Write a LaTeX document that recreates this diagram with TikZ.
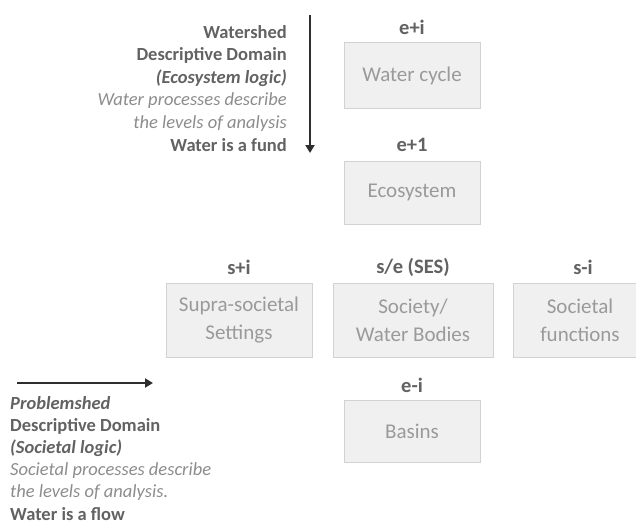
\documentclass[tikz,border=0pt]{standalone}
\usepackage{fontspec}
\setmainfont{Carlito}
\usetikzlibrary{arrows.meta}
\definecolor{boxfill}{HTML}{F0F0F0}
\definecolor{boxline}{HTML}{D2D2D2}
\definecolor{boxtext}{HTML}{9A9A9A}
\definecolor{lbltext}{HTML}{626262}
\definecolor{softtext}{HTML}{8C8C8C}
\definecolor{arrowcol}{HTML}{2E2E2E}
\tikzset{
  levelbox/.style={draw=boxline, fill=boxfill, line width=1pt, text=boxtext,
    font=\fontsize{21}{28}\selectfont, align=center, inner sep=0pt},
  levellabel/.style={text=lbltext, font=\fontsize{20.5}{22}\selectfont\bfseries, inner sep=0pt},
  sidetext/.style={text=lbltext, font=\fontsize{18.5}{22.6}\selectfont, inner sep=0pt},
  flowarrow/.style={draw=arrowcol, line width=2pt, -{Triangle[length=8pt,width=9pt]}}
}
\begin{document}
\begin{tikzpicture}[x=1pt,y=-1pt]
\useasboundingbox (0,0) rectangle (636,524);

% ecosystem column
\node[levelbox, minimum width=136pt, minimum height=65pt] (cycle) at (412,75.5) {Water cycle};
\node[levellabel] (lcycle) at (412,27) {e+i};
\node[levelbox, minimum width=136pt, minimum height=63pt] (eco) at (412,192.5) {Ecosystem};
\node[levellabel] (leco) at (412,145) {e+1};

% societal row
\node[levelbox, minimum width=146pt, minimum height=74pt] (supra) at (239,320) {Supra-societal\\Settings};
\node[levellabel] (lsupra) at (239,267) {s+i};
\node[levelbox, minimum width=160pt, minimum height=74pt] (ses) at (413,320) {Society/\\Water Bodies};
\node[levellabel] (lses) at (413,267) {s/e (SES)};
\node[levelbox, minimum width=134pt, minimum height=74pt] (func) at (580,320) {Societal\\functions};
\node[levellabel] (lfunc) at (583,267) {s-i};

\node[levelbox, minimum width=136pt, minimum height=62pt] (basins) at (412,431) {Basins};
\node[levellabel] (lbasins) at (412,385) {e-i};

% watershed description and its downward arrow
\node[sidetext, align=right, anchor=north east] (watershed) at (287,25) {%
  \textbf{Watershed}\\
  \textbf{Descriptive Domain}\\
  \textbf{\textit{(Ecosystem logic)}}\\
  {\color{softtext}\itshape Water processes describe}\\
  {\color{softtext}\itshape the levels of analysis}\\
  \textbf{Water is a fund}};
\coordinate (dtop) at (310,15);
\coordinate (dbot) at (310,153);
\draw[flowarrow] (dtop) -- (dbot);

% problemshed description and its rightward arrow
\coordinate (rleft) at (17,383);
\coordinate (rright) at (153,383);
\draw[flowarrow] (rleft) -- (rright);
\node[sidetext, align=left, anchor=north west, font=\fontsize{18.5}{22.2}\selectfont] (problemshed) at (10,396) {%
  \textbf{\textit{Problemshed}}\\
  \textbf{Descriptive Domain}\\
  \textbf{\textit{(Societal logic)}}\\
  {\color{softtext}\itshape Societal processes describe}\\
  {\color{softtext}\itshape the levels of analysis.}\\
  \textbf{Water is a flow}};
\end{tikzpicture}
\end{document}
